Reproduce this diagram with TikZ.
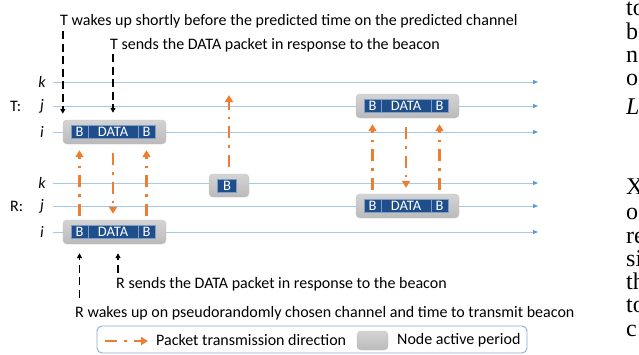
\documentclass[tikz,border=0pt]{standalone}
\usepackage{fontspec}
\setmainfont{Carlito}
\newfontfamily\paperfont{Liberation Serif}
\usetikzlibrary{positioning}
\usetikzlibrary{arrows.meta}
\definecolor{chanblue}{HTML}{A6C8EA}
\definecolor{tipblue}{HTML}{5B9BD5}
\definecolor{pktblue}{HTML}{1F4E8C}
\definecolor{cellline}{HTML}{7E9CC4}
\definecolor{txorange}{HTML}{ED7D31}
\definecolor{legline}{HTML}{8FAACB}
\tikzset{
    chan/.style={draw=chanblue,line width=0.9pt,-{Triangle[width=4pt,length=5pt,color=tipblue]}},
    chlabel/.style={font=\fontsize{16}{19}\selectfont\itshape,inner sep=0pt},
    actbox/.style={rounded corners=4pt,top color=black!17,bottom color=black!27,draw=black!25,minimum width=103pt,minimum height=24pt,inner sep=0pt},
    cell/.style={fill=pktblue,draw=cellline,line width=0.5pt,text=white,font=\fontsize{14.5}{16}\selectfont,minimum height=13pt,inner sep=0pt,outer sep=0pt},
    bcell/.style={cell,minimum width=17pt},
    dcell/.style={cell,minimum width=50pt},
    tx/.style={draw=txorange,line width=2.6pt,dash pattern=on 12pt off 7pt on 2.5pt off 7pt,-{Triangle[width=8pt,length=7pt]},shorten <=4pt,shorten >=6pt},
    wake/.style={draw=black,line width=1.5pt,dash pattern=on 8pt off 4.5pt,-{Triangle[width=5pt,length=5pt]}},
    note/.style={font=\fontsize{16}{19}\selectfont,inner sep=0pt,anchor=west},
    pagefrag/.style={font=\paperfont\fontsize{24}{26}\selectfont,inner sep=0pt,anchor=base west},
}
\newcommand{\chanLine}[3]{%
    \node[chlabel] (#1) at (42,#2) {#3};
    \coordinate (#1s) at (53,#2);
    \coordinate (#1e) at (538,#2);
    \draw[chan] (#1s) -- (#1e);
}
\newcommand{\pktBox}[3]{%
    \node[actbox] (#1) at (#2+51.5,#3) {};
    \node[bcell] (#1b1) at (#2+16.5,#3) {B};
    \node[dcell,right=0pt of #1b1] (#1d) {DATA};
    \node[bcell,right=0pt of #1d] (#1b2) {B};
}
\newcommand{\pageText}[3]{%
    \node[pagefrag] (#1) at (626,#2) {#3};
}

\begin{document}
\begin{tikzpicture}[x=1pt,y=-1pt]
    \useasboundingbox (0,0) rectangle (639,354);
    %T channels
    \node[note] (tName) at (10,106) {T:};
    \chanLine{Tk}{82}{k}
    \chanLine{Tj}{106}{j}
    \chanLine{Ti}{132}{i}
    %R channels
    \node[note] (rName) at (10,206) {R:};
    \chanLine{Rk}{183}{k}
    \chanLine{Rj}{206}{j}
    \chanLine{Ri}{232}{i}
    %active periods
    \pktBox{Tl}{63}{132}
    \pktBox{Rl}{63}{232}
    \pktBox{Tr}{356}{106}
    \pktBox{Rr}{356}{206}
    \node[actbox,minimum width=40pt,minimum height=23pt] (bcnBox) at (229,185.5) {};
    \node[bcell,minimum width=19pt] (bcn) at (227,185.5) {B};
    \coordinate (bcnTop) at (229,95);
    %E1
    \draw[tx] (Rlb1 |- Rl.north) -- (Tlb1 |- Tl.south);
    \draw[tx,shorten <=9pt] (Tld |- Tl.south) -- (Rld |- Rl.north);
    \draw[tx] (Rlb2 |- Rl.north) -- (Tlb2 |- Tl.south);
    \draw[tx,shorten <=7pt,shorten >=0pt] (bcnBox.north) -- (bcnTop);
    %E2
    \draw[tx] (Rrb1 |- Rr.north) -- (Trb1 |- Tr.south);
    \draw[tx,shorten <=9pt] (Trd |- Tr.south) -- (Rrd |- Rr.north);
    \draw[tx] (Rrb2 |- Rr.north) -- (Trb2 |- Tr.south);
    %notes
    \node[note] (twake) at (60,21) {T wakes up shortly before the predicted time on the predicted channel};
    \node[note] (tsend) at (110,45) {T sends the DATA packet in response to the beacon};
    \node[note] (rsend) at (116,284) {R sends the DATA packet in response to the beacon};
    \node[note] (rwake) at (75,313) {R wakes up on pseudorandomly chosen channel and time to transmit beacon};
    \coordinate (rs) at ([xshift=2pt]rsend.north west);
    \draw[wake,shorten <=3pt,shorten >=6pt] (Tl.north west |- twake.south) -- (Tl.north west);
    \draw[wake,shorten <=2pt,shorten >=7pt] (Tld |- tsend.south) -- (Tld |- Tl.north);
    \draw[wake,shorten <=4pt,shorten >=9pt] (rs) -- (rs |- Rl.south);
    \draw[wake,shorten <=8pt,shorten >=9pt] (Rlb1 |- rwake.north) -- (Rlb1 |- Rl.south);
    %legend
    \node[draw=legline,line width=0.9pt,rounded corners=5pt,minimum width=430pt,minimum height=27pt,inner sep=0pt] (legend) at (312,339.5) {};
    \coordinate (legA) at (105,341);
    \coordinate (legB) at (148,341);
    \draw[tx,shorten <=0pt,shorten >=0pt] (legA) -- (legB);
    \node[note] (legTx) at (156,340) {Packet transmission direction};
    \node[actbox,minimum width=31pt,minimum height=19pt] (legAct) at (372.5,340.5) {};
    \node[note] (legActTx) at (397,340) {Node active period};
    %page text
    \begin{scope}
        \clip (0,0) rectangle (639,354);
        \pageText{pg1}{15}{to}
        \pageText{pg2}{39}{b}
        \pageText{pg3}{62}{n}
        \pageText{pg4}{85}{o}
        \pageText{pg5}{114}{\textit{L}}
        \pageText{pg6}{194}{X}
        \pageText{pg7}{219}{o}
        \pageText{pg8}{243}{re}
        \pageText{pg9}{266}{si}
        \pageText{pg10}{289}{th}
        \pageText{pg11}{312}{to}
        \pageText{pg12}{336}{c}
    \end{scope}
\end{tikzpicture}
\end{document}
